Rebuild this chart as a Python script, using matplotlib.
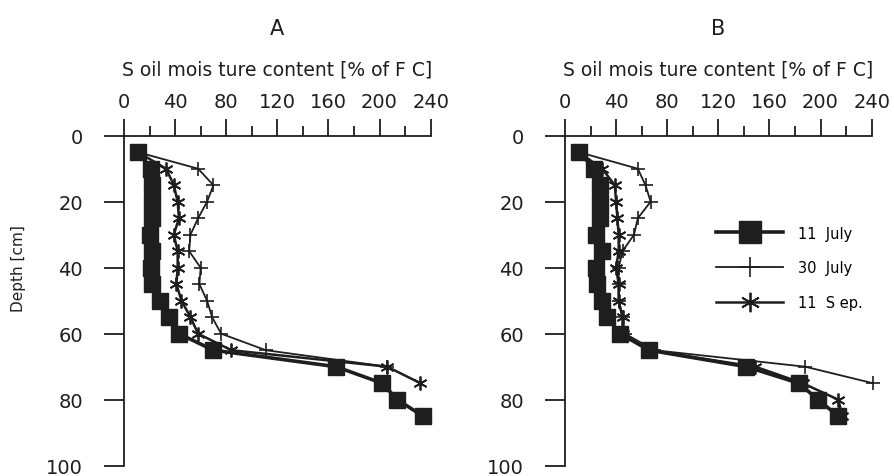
import matplotlib
matplotlib.use('Agg')
import matplotlib.pyplot as plt
from matplotlib.ticker import MultipleLocator

# depths (cm)
depth = [5, 10, 15, 20, 25, 30, 35, 40, 45, 50, 55, 60, 65, 70, 75, 80, 85]

# panel A, soil moisture [% of FC]
a_jul11 = [11, 21, 22, 22, 22, 20, 22, 21, 22, 28, 35, 43, 70, 166, 202, 214, 234]
a_jul30 = [11, 58, 70, 65, 58, 52, 51, 60, 59, 65, 69, 76, 111, 206]
a_sep11 = [11, 33, 39, 42, 43, 39, 42, 42, 41, 45, 52, 58, 84, 206, 232]

# panel B
b_jul11 = [11, 23, 27, 27, 27, 24, 29, 24, 25, 29, 33, 43, 66, 142, 183, 198, 214]
b_jul30 = [11, 57, 63, 67, 57, 54, 45, 42, 42, 42, 45, 47, 70, 188, 241]
b_sep11 = [11, 29, 39, 40, 41, 42, 42, 40, 42, 42, 45, 45, 65, 149, 186, 214, 217]

labels = ['11  July', '30  July', '11  S ep.']
x_ticks = [0, 40, 80, 120, 160, 200, 240]
y_ticks = [0, 20, 40, 60, 80, 100]

ink = '#1e1e1e'
plt.rcParams['font.family'] = ['DejaVu Sans']

fig = plt.figure(figsize=(8.94, 4.77), dpi=100)
ax_a = fig.add_axes([0.1387, 0.0216, 0.343, 0.6918])
ax_b = fig.add_axes([0.632, 0.0216, 0.343, 0.6918])


def draw_panel(ax, jul11, jul30, sep11, title):
    ax.plot(jul11, depth[:len(jul11)], color=ink, lw=2.6, marker='s', ms=11,
            mec=ink, mfc=ink, clip_on=False, zorder=3, label=labels[0])
    ax.plot(jul30, depth[:len(jul30)], color=ink, lw=1.3, marker='+', ms=10,
            mew=1.2, clip_on=False, zorder=4, label=labels[1])
    ax.plot(sep11, depth[:len(sep11)], color=ink, lw=1.8, marker=(6, 2, 0), ms=10,
            mew=1.3, clip_on=False, zorder=4, label=labels[2])

    ax.set_xlim(0, 240)
    ax.set_ylim(100, 0)
    ax.xaxis.tick_top()
    ax.xaxis.set_label_position('top')
    ax.set_xticks(x_ticks)
    ax.xaxis.set_minor_locator(MultipleLocator(20))
    ax.set_yticks(y_ticks)
    ax.tick_params(axis='x', which='major', direction='out', length=12.5, width=1.3,
                   labelsize=14, pad=5, colors=ink)
    ax.tick_params(axis='x', which='minor', direction='out', length=7, width=1.3,
                   colors=ink)
    ax.tick_params(axis='y', direction='out', length=14.5, width=1.3,
                   labelsize=14, pad=15, colors=ink)
    for side in ['right', 'bottom']:
        ax.spines[side].set_visible(False)
    for side in ['top', 'left']:
        ax.spines[side].set_linewidth(1.3)
        ax.spines[side].set_color(ink)

    ax.set_xlabel('S oil mois ture content [% of F C]', fontsize=13.5, labelpad=13,
                  color=ink)
    ax.set_title(title, fontsize=15, y=1.30, va='center', color=ink)


draw_panel(ax_a, a_jul11, a_jul30, a_sep11, 'A')
draw_panel(ax_b, b_jul11, b_jul30, b_sep11, 'B')

ax_a.set_ylabel('Depth [cm]', fontsize=11, color=ink)
ax_a.yaxis.set_label_coords(-0.32, 0.6)

handles, _ = ax_b.get_legend_handles_labels()
leg = ax_b.legend(handles, labels, loc='center left', bbox_to_anchor=(0.45, 0.6),
                  frameon=False, fontsize=10.5, handlelength=4.6, labelspacing=1.35,
                  markerscale=1.4, handletextpad=1.0)

fig.savefig('out.png', dpi=100)
